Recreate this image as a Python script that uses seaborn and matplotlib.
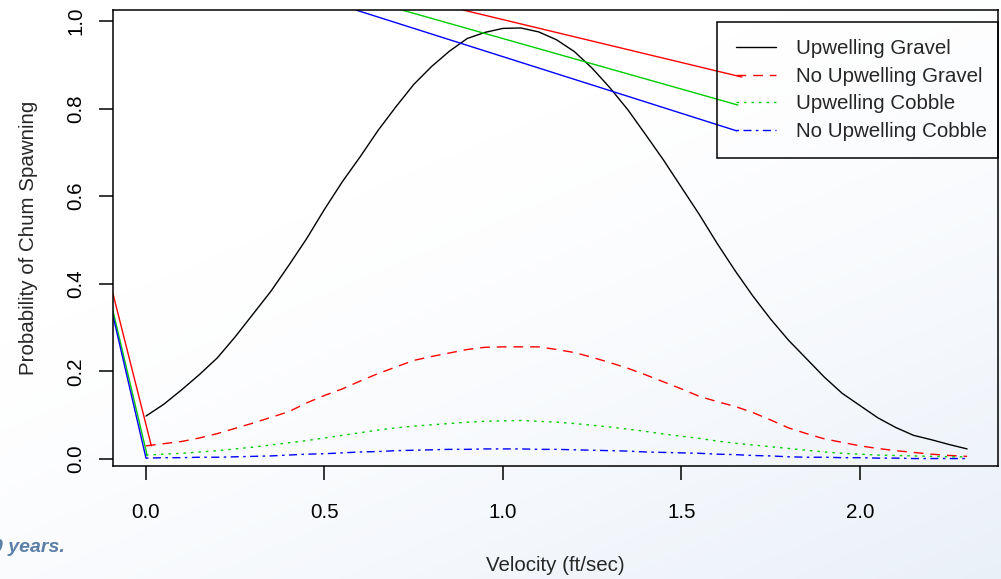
import numpy as np
import pandas as pd
import matplotlib.pyplot as plt
from matplotlib.patches import Rectangle
import seaborn as sns

# Chum spawning probability vs velocity
velocity = [0.00, 0.05, 0.10, 0.15, 0.20, 0.25, 0.30, 0.35, 0.40, 0.45,
            0.50, 0.55, 0.60, 0.65, 0.70, 0.75, 0.80, 0.85, 0.90, 0.95,
            1.00, 1.05, 1.10, 1.15, 1.20, 1.25, 1.30, 1.35, 1.40, 1.45,
            1.50, 1.55, 1.60, 1.65, 1.70, 1.75, 1.80, 1.85, 1.90, 1.95,
            2.00, 2.05, 2.10, 2.15, 2.20, 2.25, 2.30]

upwelling_gravel = [0.098, 0.125, 0.158, 0.193, 0.231, 0.279, 0.331, 0.383, 0.442, 0.503,
                    0.570, 0.633, 0.690, 0.750, 0.804, 0.855, 0.896, 0.931, 0.960, 0.974,
                    0.983, 0.984, 0.975, 0.957, 0.930, 0.892, 0.847, 0.797, 0.740, 0.682,
                    0.620, 0.558, 0.492, 0.430, 0.372, 0.319, 0.271, 0.229, 0.187, 0.150,
                    0.122, 0.094, 0.072, 0.054, 0.044, 0.033, 0.023]

no_upwelling_gravel = [0.030, 0.035, 0.040, 0.048, 0.058, 0.070, 0.082, 0.095, 0.108, 0.128,
                       0.145, 0.160, 0.178, 0.195, 0.210, 0.225, 0.234, 0.242, 0.250, 0.255,
                       0.256, 0.256, 0.256, 0.250, 0.243, 0.232, 0.220, 0.207, 0.192, 0.176,
                       0.160, 0.143, 0.131, 0.120, 0.106, 0.089, 0.071, 0.058, 0.046, 0.038,
                       0.030, 0.024, 0.019, 0.015, 0.011, 0.008, 0.006]

upwelling_cobble = [0.009, 0.011, 0.013, 0.016, 0.019, 0.023, 0.027, 0.032, 0.037, 0.042,
                    0.048, 0.054, 0.060, 0.066, 0.071, 0.075, 0.078, 0.081, 0.084, 0.086,
                    0.087, 0.088, 0.086, 0.084, 0.081, 0.077, 0.073, 0.068, 0.063, 0.057,
                    0.052, 0.047, 0.041, 0.036, 0.032, 0.028, 0.024, 0.020, 0.016, 0.013,
                    0.011, 0.009, 0.008, 0.007, 0.006, 0.005, 0.005]

no_upwelling_cobble = [0.002, 0.003, 0.003, 0.004, 0.004, 0.005, 0.006, 0.007, 0.009, 0.011,
                       0.012, 0.014, 0.016, 0.017, 0.019, 0.020, 0.021, 0.022, 0.022, 0.023,
                       0.023, 0.023, 0.022, 0.022, 0.021, 0.020, 0.019, 0.018, 0.016, 0.015,
                       0.014, 0.013, 0.011, 0.010, 0.008, 0.007, 0.005, 0.004, 0.004, 0.003,
                       0.003, 0.002, 0.002, 0.001, 0.001, 0.001, 0.001]

series_names = ['Upwelling Gravel', 'No Upwelling Gravel', 'Upwelling Cobble', 'No Upwelling Cobble']

# stray solid segments that appear in the original screenshot
lead_in_x = {'No Upwelling Gravel': [-0.093, 0.015],
             'Upwelling Cobble': [-0.093, 0.003],
             'No Upwelling Cobble': [-0.093, 0.0]}
lead_in_y = {'No Upwelling Gravel': [0.379, 0.030],
             'Upwelling Cobble': [0.340, 0.009],
             'No Upwelling Cobble': [0.329, 0.002]}
tail_x = {'No Upwelling Gravel': [0.888, 1.669],
          'Upwelling Cobble': [0.717, 1.658],
          'No Upwelling Cobble': [0.588, 1.655]}
tail_y = {'No Upwelling Gravel': [1.025, 0.872],
          'Upwelling Cobble': [1.025, 0.808],
          'No Upwelling Cobble': [1.025, 0.749]}

colors = {'Upwelling Gravel': 'black', 'No Upwelling Gravel': '#ff0000',
          'Upwelling Cobble': '#00cd00', 'No Upwelling Cobble': '#0000ff'}
dashes = {'Upwelling Gravel': '', 'No Upwelling Gravel': (7, 5),
          'Upwelling Cobble': (1.8, 3.6), 'No Upwelling Cobble': (1.8, 3.2, 5.8, 3.2)}

df = pd.DataFrame({
    'Velocity': velocity * 4,
    'Probability': upwelling_gravel + no_upwelling_gravel + upwelling_cobble + no_upwelling_cobble,
    'Series': [n for n in series_names for _ in velocity],
})

sns.set_style('ticks')
plt.rcParams['font.family'] = ['Liberation Sans', 'DejaVu Sans']
fs = 14.8

fig = plt.figure(figsize=(10.01, 5.79), dpi=100)

# light slide background gradient
bg = fig.add_axes([0, 0, 1, 1], zorder=0)
u, v = np.meshgrid(np.linspace(0, 1, 300), np.linspace(0, 1, 200))
t = np.clip(0.55 * u + 0.75 * v - 0.45, 0, 1) ** 1.3
top = np.array([1.0, 1.0, 1.0])
bot = np.array([0.90, 0.93, 0.97])
img = top[None, None, :] * (1 - t[..., None]) + bot[None, None, :] * t[..., None]
bg.imshow(img, aspect='auto', extent=[0, 1, 0, 1], origin='upper')
bg.axis('off')

ax = fig.add_axes([113 / 1001, 1 - 466 / 579, 885 / 1001, 456 / 579], zorder=1)
ax.patch.set_alpha(0)

sns.lineplot(data=df, x='Velocity', y='Probability', hue='Series', style='Series',
             hue_order=series_names, style_order=series_names,
             palette=colors, dashes=dashes, linewidth=1.0, errorbar=None,
             legend=False, ax=ax)

for name in lead_in_x:
    ax.plot(lead_in_x[name], lead_in_y[name], color=colors[name], linewidth=1.0)
    ax.plot(tail_x[name], tail_y[name], color=colors[name], linewidth=1.0)

ax.set_xlim(-0.0924, 2.3866)
ax.set_ylim(-0.016, 1.025)
ax.set_xticks([0.0, 0.5, 1.0, 1.5, 2.0])
ax.set_xticklabels(['0.0', '0.5', '1.0', '1.5', '2.0'])
ax.set_yticks([0.0, 0.2, 0.4, 0.6, 0.8, 1.0])
ax.set_yticklabels(['0.0', '0.2', '0.4', '0.6', '0.8', '1.0'], rotation=90, va='center')

for s in ax.spines.values():
    s.set_visible(True)
    s.set_linewidth(1.1)
    s.set_color('black')
ax.tick_params(axis='both', direction='out', length=10, width=1.1, color='black',
               labelsize=fs, labelcolor='black')
ax.tick_params(axis='x', pad=16.5)
ax.tick_params(axis='y', pad=9.7)

ax.set_xlabel('Velocity (ft/sec)', fontsize=fs)
ax.set_ylabel('Probability of Chum Spawning', fontsize=fs)
ax.xaxis.set_label_coords(0.5, -0.197)
ax.yaxis.set_label_coords(-0.0853, 0.5)

# legend entries without frame, box drawn separately (R style uneven padding)
handles = ax.get_lines()[:4]
leg = ax.legend(handles, series_names, loc='upper left',
                bbox_to_anchor=(736 / 1001, 1 - 39.5 / 579), bbox_transform=fig.transFigure,
                borderaxespad=0, borderpad=0, fontsize=fs, handlelength=1.95,
                handletextpad=0.97, labelspacing=0.41, frameon=False)
fig.add_artist(Rectangle((717 / 1001, 1 - 158 / 579), 281 / 1001, 136 / 579,
                         transform=fig.transFigure, fill=False, edgecolor='black',
                         linewidth=1.1, zorder=3))

# slide text peeking in at the lower left
fig.text(65 / 1001, 1 - 548 / 579, '0 years.', ha='right', va='center',
         fontsize=14, fontstyle='italic', fontweight='bold', color='#5b7fa6')

fig.savefig('out.png', dpi=100)
